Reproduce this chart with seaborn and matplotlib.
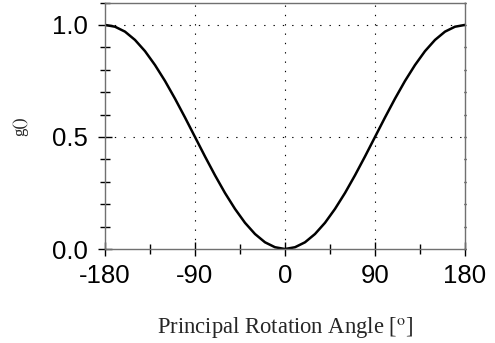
import matplotlib
matplotlib.use("Agg")
import matplotlib.pyplot as plt
from matplotlib.ticker import MultipleLocator
import seaborn as sns
import pandas as pd

# Principal rotation angle (degrees) and the matching g() values
angle_deg = [-180, -170, -160, -150, -140, -130, -120, -110, -100, -90,
             -80, -70, -60, -50, -40, -30, -20, -10, 0,
             10, 20, 30, 40, 50, 60, 70, 80, 90,
             100, 110, 120, 130, 140, 150, 160, 170, 180]
g_value = [1.000, 0.992, 0.970, 0.933, 0.883, 0.821, 0.750, 0.671, 0.587, 0.500,
           0.413, 0.329, 0.250, 0.179, 0.117, 0.067, 0.030, 0.008, 0.000,
           0.008, 0.030, 0.067, 0.117, 0.179, 0.250, 0.329, 0.413, 0.500,
           0.587, 0.671, 0.750, 0.821, 0.883, 0.933, 0.970, 0.992, 1.000]

x_ticks = [-180, -90, 0, 90, 180]
y_ticks = [0.0, 0.5, 1.0]
x_ticklabels = ["-180", "-90", "0", "90", "180"]
y_ticklabels = ["0.0", "0.5", "1.0"]

df = pd.DataFrame({"angle": angle_deg, "g": g_value})

sns.set_theme(style="white")
plt.rcParams["font.family"] = ["Liberation Sans", "DejaVu Sans"]
plt.rcParams["mathtext.fontset"] = "stix"

fig = plt.figure(figsize=(4.95, 3.43), dpi=100)
ax = fig.add_axes([0.2121, 0.274, 0.7273, 0.7187])

sns.lineplot(data=df, x="angle", y="g", ax=ax, color="black", linewidth=1.8)

ax.set_xlim(-180, 180)
ax.set_ylim(0, 1.1)

ax.set_xticks(x_ticks)
ax.set_xticklabels(x_ticklabels)
ax.set_yticks(y_ticks)
ax.set_yticklabels(y_ticklabels)
ax.xaxis.set_minor_locator(MultipleLocator(45))
ax.yaxis.set_minor_locator(MultipleLocator(0.1))

# dotted reference grid on the major ticks
for xv in [-90, 0, 90]:
    ax.axvline(xv, color="black", linewidth=0.8, linestyle=(0, (1.2, 7.2)), zorder=0)
for yv in [0.5, 1.0]:
    ax.axhline(yv, color="black", linewidth=0.8, linestyle=(0, (1.2, 7.2)), zorder=0)

for side, sp in ax.spines.items():
    sp.set_visible(True)
    sp.set_color("#707070")
    sp.set_linewidth(1.0)

ax.tick_params(axis="both", which="major", direction="inout", length=10,
               width=1.0, color="black", labelsize=18.5, labelcolor="black", pad=6)
ax.tick_params(axis="y", which="major", pad=7.5)
ax.tick_params(axis="both", which="minor", direction="inout", length=7,
               width=1.0, color="black")
ax.tick_params(axis="y", which="both", right=True, left=True)
ax.tick_params(axis="x", which="both", bottom=True, top=False)
for t in ax.yaxis.get_major_ticks() + ax.yaxis.get_minor_ticks():
    t.tick2line.set_markersize(2)

ax.set_xlabel(r"Principal Rotation Angle [$^{\mathrm{o}}$]", fontsize=16.3,
              family=["Liberation Serif", "DejaVu Serif"], labelpad=19)
ax.set_ylabel("g()", fontsize=12,
              family=["Liberation Serif", "DejaVu Serif"], labelpad=17)

fig.savefig("out.png", dpi=100)
